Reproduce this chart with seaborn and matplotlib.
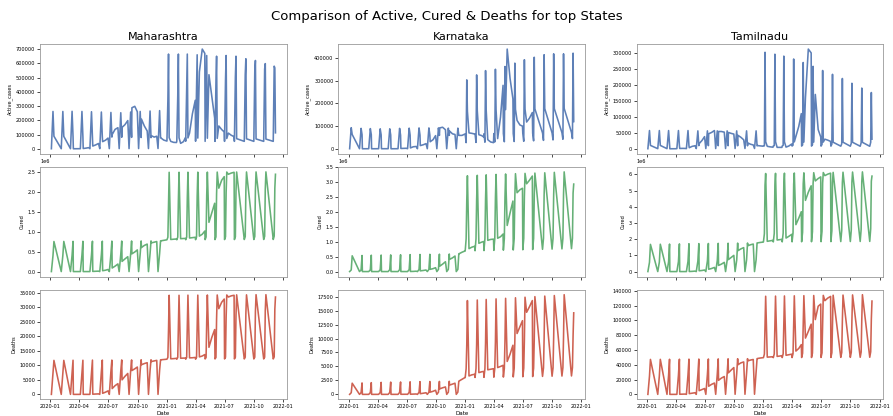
import calendar
import matplotlib
matplotlib.use("Agg")
import matplotlib.pyplot as plt
import matplotlib.dates as mdates
import pandas as pd
import seaborn as sns

# ---------------- categories / labels ----------------
STATES = ["Maharashtra", "Karnataka", "Tamilnadu"]
METRICS = ["Active_cases", "Cured", "Deaths"]
COLORS = ["#4c72b0", "#55a868", "#c9513f"]
TITLE = "Comparison of Active, Cured & Deaths for top States"
XTICK_MONTHS = [1, 4, 7, 10]

# Dates as they were (mis)parsed: each month of 2020 holds points on days 4, 9, 12
# (day-first dates read month-first) followed, from the state's first full month,
# by points on days 13, 22 and the month end.  2021 months hold days 1, 4, 6, 8
# and (Jan-Jul) days 13, 22, month end.
DAYS20 = [4, 9, 12]
DAYS21 = [1, 4, 6, 8]
FIRST_LEVEL_MONTH = [3, 2, 3]
LAST_LEVEL_MONTH_21 = 7

# ---------------- values (thousands) ----------------
# Maharashtra - Active
mh_act_low20 = [0.3, 0.4, 0.5, 0.6, 0.7, 0.8, 1.0, 1.1, 1.2, 1.4, 1.6, 1.8]
mh_act_top20 = [262, 262, 263, 262, 260, 258, 255, 253, 258, 262, 265, 268]
mh_act_post20 = [88, 87, 86, 85, 84, 83, 82, 81, 80, 79, 78, 76]
mh_act_lev20 = [0.02, 0.1, 0.3, 1.8, 4.5, 7.9, 19, 27, 37, 50, 60, 75,
                100, 136, 148, 150, 169, 198, 288, 298, 260, 208, 160, 125,
                92, 82, 88, 76, 61, 55]
mh_act_base21 = [54, 53, 53, 53, 52, 52, 52, 52, 52, 52, 52, 52]
mh_act_low21 = [340, 370, 400, 420, 440, 460, 480, 500, 520, 540, 560, 580]
mh_act_top21 = [665, 665, 665, 660, 655, 650, 655, 650, 632, 620, 598, 568]
mh_act_end21 = [78, 77, 76, 75, 74, 73, 72, 71, 70, 69, 68, 112]
mh_act_lev21 = [52, 45, 44, 38, 50, 78, 110, 245, 340, 540, 700, 670,
                520, 370, 215, 160, 135, 118, 110, 95, 85]

# Maharashtra - Cured
mh_cur_low20 = [0.0, 0.0, 0.0, 0.0, 0.0, 0.0, 0.0, 0.0, 0.0, 0.0, 0.0, 0.0]
mh_cur_top20 = [400, 405, 410, 415, 420, 425, 430, 435, 440, 445, 450, 455]
mh_cur_post20 = [757, 759, 761, 762, 764, 765, 767, 768, 770, 771, 772, 774]
mh_cur_lev20 = [0, 0.002, 0.006, 0.05, 0.6, 1.2, 4, 8, 11, 22, 34, 52,
                90, 136, 190, 256, 318, 374, 447, 493, 545, 605, 658, 692,
                722, 741, 756, 774, 786, 798]
mh_cur_base21 = [800, 801, 802, 803, 804, 805, 806, 806, 807, 807, 808, 808]
mh_cur_low21 = [865, 866, 867, 869, 871, 873, 875, 877, 880, 884, 888, 893]
mh_cur_top21 = [1760, 1800, 1850, 1890, 1920, 1960, 1990, 2020, 2040, 2060, 2080, 2100]
mh_cur_end21 = [2500, 2501, 2502, 2503, 2504, 2505, 2506, 2507, 2508, 2509, 2510, 2450]
mh_cur_lev21 = [808, 815, 821, 829, 833, 835, 845, 853, 863, 893, 940, 1020,
                1240, 1480, 1720, 2100, 2300, 2390, 2450, 2480, 2500]

# Maharashtra - Deaths
mh_dth_low20 = [0.0, 0.0, 0.0, 0.0, 0.0, 0.0, 0.0, 0.0, 0.0, 0.0, 0.0, 0.0]
mh_dth_top20 = [7.3, 7.4, 7.5, 7.6, 7.7, 7.8, 7.9, 8.0, 8.1, 8.2, 8.2, 8.3]
mh_dth_post20 = [11.7, 11.7, 11.75, 11.75, 11.8, 11.8, 11.8, 11.85, 11.85, 11.9, 11.9, 11.9]
mh_dth_lev20 = [0, 0, 0.001, 0.011, 0.018, 0.027, 0.066, 0.118, 0.173, 0.37, 0.76, 1.2,
                2.0, 3.0, 3.7, 5.0, 6.2, 7.2, 8.2, 8.8, 9.4, 10.2, 10.6, 10.9,
                11.3, 11.5, 11.7, 11.9, 12.0, 12.1]
mh_dth_base21 = [12.1, 12.1, 12.1, 12.1, 12.2, 12.2, 12.2, 12.2, 12.2, 12.2, 12.2, 12.2]
mh_dth_low21 = [12.7, 12.7, 12.7, 12.7, 12.7, 12.7, 12.8, 12.8, 12.8, 12.8, 12.8, 12.9]
mh_dth_top21 = [22.3, 23.0, 23.6, 24.4, 25.2, 26.0, 26.6, 27.2, 27.8, 28.5, 28.9, 29.3]
mh_dth_end21 = [34.1, 34.1, 34.15, 34.15, 34.2, 34.2, 34.2, 34.25, 34.25, 34.3, 34.3, 33.5]
mh_dth_lev21 = [12.25, 12.3, 12.4, 12.45, 12.48, 12.5, 12.56, 12.6, 12.7, 12.9, 13.2, 13.7,
                16.2, 19.6, 22.3, 29.5, 31.7, 32.8, 33.5, 33.9, 34.1]

# Karnataka - Active
ka_act_low20 = [0.24, 0.24, 0.26, 0.26, 0.26, 0.26, 0.25, 0.25, 0.24, 0.23, 0.22, 0.21]
ka_act_top20 = [93, 90, 89, 88, 88, 90, 91, 92, 92, 92, 91, 91]
ka_act_post20 = [63, 62, 62, 61, 61, 60, 60, 60, 60, 59, 59, 59]
ka_act_lev20 = [0.003, 0.0, 0.0, 0.02, 0.06, 0.2, 0.2, 0.13, 0.12, 0.03, 0.2, 0.6,
                1.3, 1.5, 2.1, 3.7, 8.8, 10.1, 14, 17.5, 22.6, 31, 40, 58,
                92, 95, 84, 78, 66, 63, 59, 59, 65]
ka_act_base21 = [65, 66, 66, 67, 67, 67, 68, 69, 70, 70, 71, 72]
ka_act_low21 = [27, 28, 29, 30, 31, 32, 33, 35, 37, 39, 42, 45]
ka_act_top21 = [304, 326, 345, 351, 363, 378, 393, 404, 415, 419, 419, 422]
ka_act_end21 = [165, 168, 170, 172, 173, 174, 175, 176, 177, 177, 178, 120]
ka_act_lev21 = [70, 68, 65, 62, 58, 52, 40, 30, 27, 45, 140, 280,
                440, 310, 220, 125, 105, 100, 118, 135, 160]

# Karnataka - Cured
ka_cur_low20 = [0.05, 0.06, 0.08, 0.1, 0.1, 0.12, 0.13, 0.15, 0.17, 0.18, 0.2, 0.2]
ka_cur_top20 = [55, 57, 60, 62, 64, 66, 68, 70, 72, 73, 74, 75]
ka_cur_post20 = [530, 540, 550, 555, 560, 565, 570, 575, 580, 585, 590, 600]
ka_cur_lev20 = [0.002, 0.003, 0.003, 0.003, 0.004, 0.02, 0.2, 0.3, 0.4, 0.5, 0.5, 0.6,
                1.0, 1.6, 2.3, 3.3, 6, 12.5, 24, 36, 52, 75, 98, 130,
                180, 250, 330, 410, 460, 522, 600, 650, 690]
ka_cur_base21 = [690, 700, 705, 712, 720, 725, 733, 740, 748, 755, 762, 770]
ka_cur_low21 = [1100, 1102, 1104, 1106, 1108, 1110, 1112, 1113, 1115, 1116, 1118, 1120]
ka_cur_top21 = [2400, 2420, 2440, 2460, 2480, 2500, 2520, 2540, 2560, 2580, 2600, 2640]
ka_cur_end21 = [3220, 3235, 3250, 3265, 3280, 3290, 3300, 3310, 3320, 3335, 3350, 2940]
ka_cur_lev21 = [770, 820, 850, 950, 990, 1010, 1050, 1080, 1090, 1120, 1170, 1260,
                1550, 1970, 2370, 2650, 2750, 2800, 2950, 3070, 3210]

# Karnataka - Deaths
ka_dth_low20 = [0.002, 0.002, 0.002, 0.002, 0.002, 0.002, 0.002, 0.002, 0.002, 0.002, 0.002, 0.002]
ka_dth_top20 = [0.30, 0.31, 0.32, 0.33, 0.34, 0.35, 0.36, 0.37, 0.38, 0.39, 0.40, 0.41]
ka_dth_post20 = [2.0, 2.05, 2.1, 2.15, 2.2, 2.22, 2.25, 2.28, 2.3, 2.32, 2.34, 2.36]
ka_dth_lev20 = [0, 0, 0, 0, 0, 0, 0.002, 0.003, 0.003, 0.004, 0.004, 0.005,
                0.015, 0.02, 0.022, 0.03, 0.045, 0.07, 0.12, 0.2, 0.29, 0.4, 0.55, 0.74,
                0.98, 1.18, 1.33, 1.66, 1.85, 2.0, 2.4, 2.7, 3.0]
ka_dth_base21 = [3.0, 3.03, 3.05, 3.08, 3.1, 3.13, 3.16, 3.19, 3.22, 3.25, 3.28, 3.3]
ka_dth_low21 = [4.6, 4.6, 4.6, 4.65, 4.65, 4.7, 4.7, 4.7, 4.75, 4.75, 4.8, 4.8]
ka_dth_top21 = [8.9, 9.0, 9.2, 9.3, 9.5, 9.6, 9.7, 9.9, 10.0, 10.2, 10.3, 10.5]
ka_dth_end21 = [16.8, 16.9, 17.0, 17.1, 17.2, 17.3, 17.4, 17.5, 17.6, 17.7, 17.85, 14.6]
ka_dth_lev21 = [3.3, 3.5, 3.6, 3.9, 4.05, 4.1, 4.4, 4.5, 4.6, 4.8, 5.0, 5.2,
                5.9, 7.2, 8.8, 10.9, 12.1, 13.2, 14.7, 15.7, 16.8]

# Tamilnadu - Active
tn_act_low20 = [0.2, 0.3, 0.4, 0.45, 0.5, 0.6, 0.65, 0.7, 0.8, 0.85, 0.9, 0.9]
tn_act_top20 = [57, 57, 57, 57, 57, 56, 56, 56, 56, 56, 56, 56]
tn_act_post20 = [10.5, 10.4, 10.2, 10.0, 9.9, 9.8, 9.7, 9.6, 9.5, 9.4, 9.3, 9.2]
tn_act_lev20 = [0.0, 0.01, 0.12, 0.95, 1.2, 1.0, 3.3, 7.5, 9.4, 16, 26, 38,
                47, 51, 57, 54, 54, 52, 51, 48, 46, 42, 36, 28,
                18, 14, 12, 10, 9, 8]
tn_act_base21 = [8.9, 8.8, 8.7, 8.6, 8.5, 8.4, 8.3, 8.2, 8.1, 8.0, 7.9, 7.8]
tn_act_low21 = [9.2, 9.9, 10.6, 11.3, 12.0, 12.8, 13.6, 14.6, 15.8, 17.1, 18.6, 20.2]
tn_act_top21 = [302, 296, 290, 281, 270, 258, 245, 233, 220, 205, 190, 176]
tn_act_end21 = [22, 22, 21.5, 21.5, 21, 21, 21, 20.5, 20.5, 20.3, 20.1, 30]
tn_act_lev21 = [7.7, 6.0, 4.9, 4.4, 4.2, 4.3, 5.2, 8.7, 15, 39, 70, 110,
                160, 312, 300, 170, 60, 37, 30, 27, 23]

# Tamilnadu - Cured
tn_cur_low20 = [0.04, 0.05, 0.06, 0.07, 0.08, 0.09, 0.1, 0.12, 0.14, 0.16, 0.18, 0.2]
tn_cur_top20 = [570, 585, 600, 615, 630, 645, 660, 675, 690, 705, 715, 730]
tn_cur_post20 = [1680, 1690, 1700, 1710, 1720, 1728, 1736, 1744, 1752, 1758, 1764, 1770]
tn_cur_lev20 = [0.0, 0.0, 0.04, 0.2, 0.8, 1.8, 5, 13, 28, 49, 67, 95,
                144, 190, 256, 380, 460, 570, 740, 880, 1000, 1290, 1400, 1480,
                1600, 1660, 1700, 1770, 1800, 1820]
tn_cur_base21 = [1830, 1833, 1836, 1839, 1842, 1845, 1848, 1851, 1854, 1857, 1860, 1863]
tn_cur_low21 = [2340, 2360, 2380, 2400, 2430, 2460, 2490, 2520, 2550, 2580, 2620, 2650]
tn_cur_top21 = [5330, 5360, 5380, 5400, 5420, 5440, 5470, 5490, 5510, 5540, 5560, 5590]
tn_cur_end21 = [6060, 6070, 6080, 6090, 6100, 6110, 6120, 6130, 6140, 6150, 6160, 5900]
tn_cur_lev21 = [1870, 1900, 1930, 1950, 1970, 1990, 2070, 2180, 2300, 2900, 3300, 3700,
                4400, 4900, 5300, 5600, 5750, 5850, 5930, 6020, 6080]

# Tamilnadu - Deaths
tn_dth_low20 = [0.01, 0.01, 0.02, 0.03, 0.04, 0.05, 0.06, 0.07, 0.09, 0.11, 0.13, 0.16]
tn_dth_top20 = [24.6, 25.0, 25.5, 26.0, 26.3, 26.6, 27.0, 27.4, 27.8, 28.2, 28.6, 29.0]
tn_dth_post20 = [47.2, 47.3, 47.4, 47.5, 47.6, 47.7, 47.8, 47.9, 48.0, 48.1, 48.2, 48.3]
tn_dth_lev20 = [0.0, 0.0, 0.01, 0.19, 0.27, 0.4, 1.0, 1.6, 2.2, 5.0, 6.5, 7.9,
                11, 13.5, 15.3, 19, 22, 24.1, 29.1, 33.0, 36.2, 40.0, 42.5, 43.8,
                45.3, 46.4, 47.1, 48.4, 49.1, 49.5]
tn_dth_base21 = [49.6, 49.6, 49.7, 49.7, 49.8, 49.8, 49.9, 49.9, 50.0, 50.0, 50.1, 50.1]
tn_dth_low21 = [54.4, 54.6, 54.8, 55.0, 55.4, 55.7, 56.0, 56.3, 56.6, 57.0, 57.3, 57.6]
tn_dth_top21 = [95, 95.3, 96, 96.5, 97, 97.5, 98, 98.7, 99.5, 100, 101, 101.5]
tn_dth_end21 = [132.5, 132.7, 132.9, 133.1, 133.3, 133.5, 133.7, 133.9, 134.1, 134.3, 134.6, 126]
tn_dth_lev21 = [50.3, 50.6, 50.8, 51.3, 51.8, 52.3, 52.8, 53.6, 54.3, 58.5, 62, 67.2,
                76, 85, 94.8, 101, 119, 121.9, 126.5, 130, 132.3]

PANELS = {
    ("Maharashtra", "Active_cases"): (mh_act_low20, mh_act_top20, mh_act_post20, mh_act_lev20,
                                      mh_act_base21, mh_act_low21, mh_act_top21, mh_act_end21, mh_act_lev21),
    ("Maharashtra", "Cured"): (mh_cur_low20, mh_cur_top20, mh_cur_post20, mh_cur_lev20,
                               mh_cur_base21, mh_cur_low21, mh_cur_top21, mh_cur_end21, mh_cur_lev21),
    ("Maharashtra", "Deaths"): (mh_dth_low20, mh_dth_top20, mh_dth_post20, mh_dth_lev20,
                                mh_dth_base21, mh_dth_low21, mh_dth_top21, mh_dth_end21, mh_dth_lev21),
    ("Karnataka", "Active_cases"): (ka_act_low20, ka_act_top20, ka_act_post20, ka_act_lev20,
                                    ka_act_base21, ka_act_low21, ka_act_top21, ka_act_end21, ka_act_lev21),
    ("Karnataka", "Cured"): (ka_cur_low20, ka_cur_top20, ka_cur_post20, ka_cur_lev20,
                             ka_cur_base21, ka_cur_low21, ka_cur_top21, ka_cur_end21, ka_cur_lev21),
    ("Karnataka", "Deaths"): (ka_dth_low20, ka_dth_top20, ka_dth_post20, ka_dth_lev20,
                              ka_dth_base21, ka_dth_low21, ka_dth_top21, ka_dth_end21, ka_dth_lev21),
    ("Tamilnadu", "Active_cases"): (tn_act_low20, tn_act_top20, tn_act_post20, tn_act_lev20,
                                    tn_act_base21, tn_act_low21, tn_act_top21, tn_act_end21, tn_act_lev21),
    ("Tamilnadu", "Cured"): (tn_cur_low20, tn_cur_top20, tn_cur_post20, tn_cur_lev20,
                             tn_cur_base21, tn_cur_low21, tn_cur_top21, tn_cur_end21, tn_cur_lev21),
    ("Tamilnadu", "Deaths"): (tn_dth_low20, tn_dth_top20, tn_dth_post20, tn_dth_lev20,
                              tn_dth_base21, tn_dth_low21, tn_dth_top21, tn_dth_end21, tn_dth_lev21),
}


def month_end(year, month):
    return calendar.monthrange(year, month)[1]


def build_frame(first_level_month, low20, top20, post20, lev20,
                base21, low21, top21, end21, lev21, metric):
    dates, vals = [], []
    for m in range(1, 13):
        for d, v in zip(DAYS20, (low20[m - 1], top20[m - 1], post20[m - 1])):
            dates.append(pd.Timestamp(2020, m, d)); vals.append(v)
        if m >= first_level_month:
            i = 3 * (m - first_level_month)
            for d, v in zip((13, 22, month_end(2020, m)), lev20[i:i + 3]):
                dates.append(pd.Timestamp(2020, m, d)); vals.append(v)
    for m in range(1, 13):
        for d, v in zip(DAYS21, (base21[m - 1], low21[m - 1], top21[m - 1], end21[m - 1])):
            dates.append(pd.Timestamp(2021, m, d)); vals.append(v)
        if m <= LAST_LEVEL_MONTH_21:
            i = 3 * (m - 1)
            for d, v in zip((13, 22, month_end(2021, m)), lev21[i:i + 3]):
                dates.append(pd.Timestamp(2021, m, d)); vals.append(v)
    return pd.DataFrame({"Date": dates, metric: [v * 1000 for v in vals]})


plt.rcParams["font.family"] = ["DejaVu Sans"]
fig, axes = plt.subplots(3, 3, figsize=(8.93, 4.16), dpi=100, sharex=True)
fig.subplots_adjust(left=0.045, right=0.989, top=0.894, bottom=0.04,
                    wspace=0.21, hspace=0.12)

for j, state in enumerate(STATES):
    for i, metric in enumerate(METRICS):
        ax = axes[i, j]
        df = build_frame(FIRST_LEVEL_MONTH[j], *PANELS[(state, metric)], metric)
        sns.lineplot(data=df, x="Date", y=metric, ax=ax, color=COLORS[i],
                     linewidth=1.15, sort=False, estimator=None, alpha=0.9)
        ax.set_ylabel(metric, fontsize=3.6, labelpad=2)
        ax.tick_params(axis="both", labelsize=3.6, length=2, width=0.5, pad=1.5)
        ax.yaxis.get_offset_text().set_fontsize(3.6)
        for sp in ax.spines.values():
            sp.set_linewidth(0.6)
            sp.set_color("#9a9a9a")
        if i == 0:
            ax.set_title(state, fontsize=8, pad=3)
        if i == 2:
            ax.set_xlabel("Date", fontsize=4, labelpad=1)
        else:
            ax.set_xlabel("")

axes[2, 0].xaxis.set_major_locator(mdates.MonthLocator(bymonth=XTICK_MONTHS))
axes[2, 0].xaxis.set_major_formatter(mdates.DateFormatter("%Y-%m"))

fig.suptitle(TITLE, fontsize=9.5, y=0.975)
fig.savefig("out.png", dpi=100)
